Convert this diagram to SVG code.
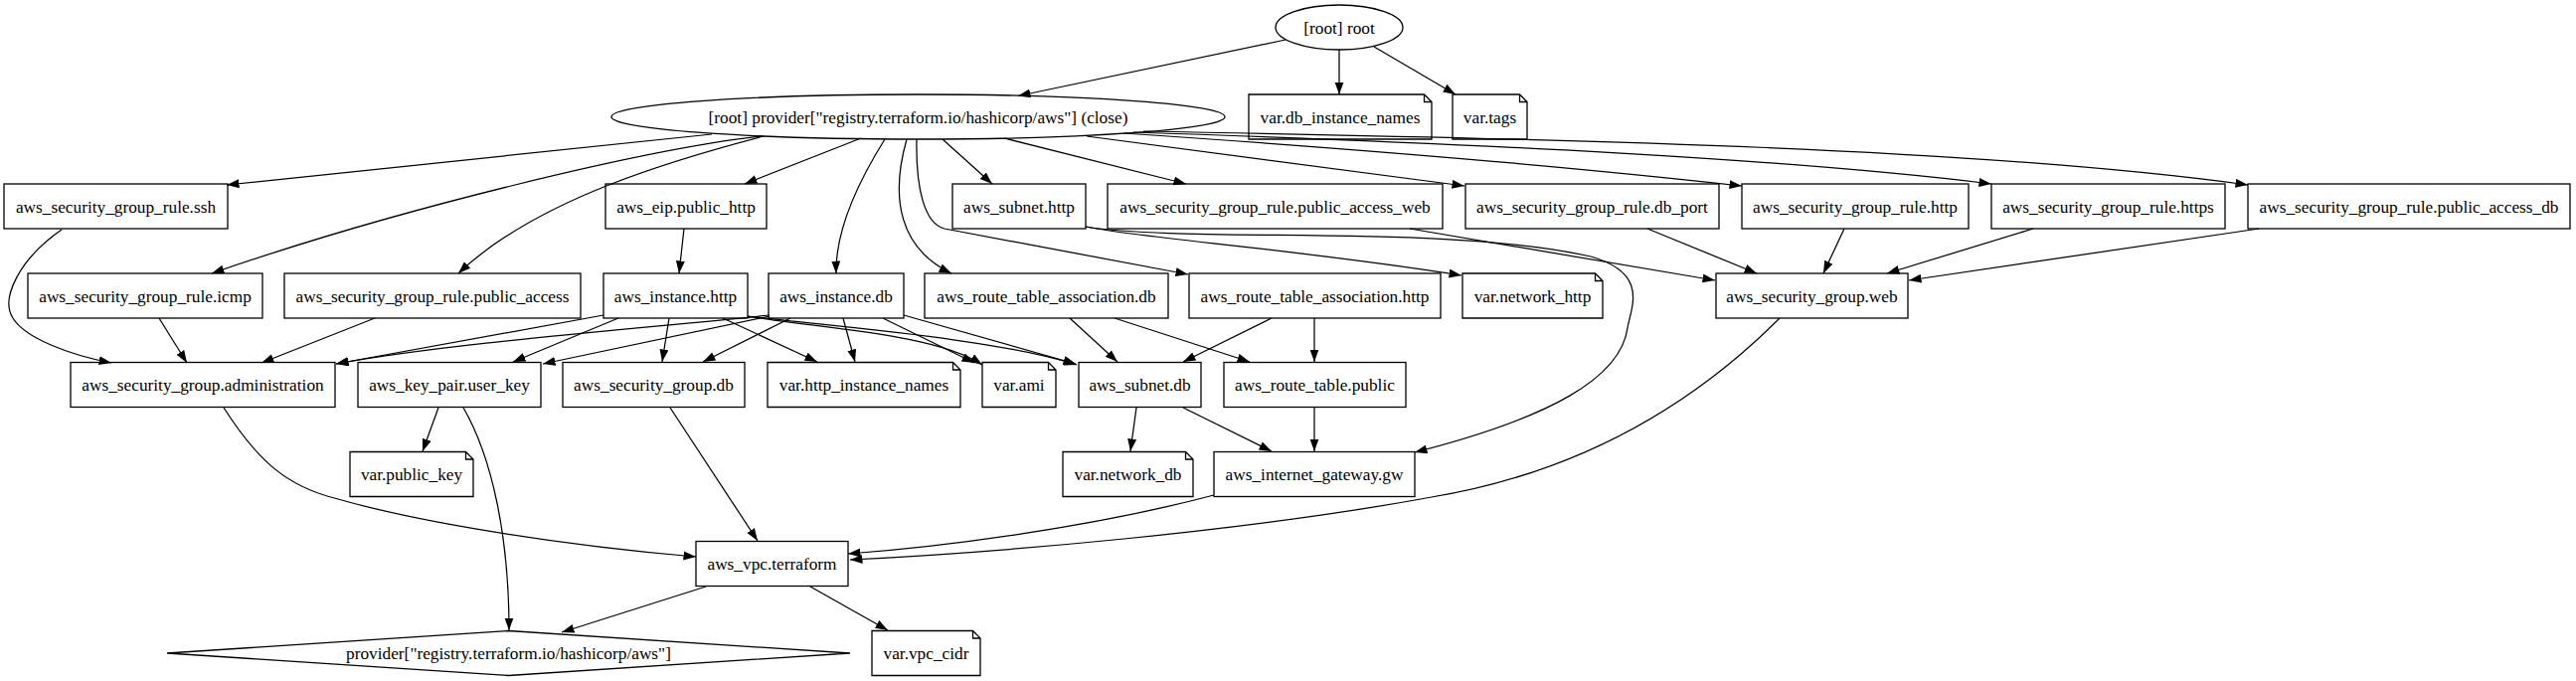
<svg xmlns="http://www.w3.org/2000/svg" width="2591" height="685" viewBox="0 0 2591 685">
<style>
.s{fill:none;stroke:#000;stroke-width:1.3}
.e{fill:none;stroke:#000;stroke-width:1.25}
text{font-family:"Liberation Serif","Times New Roman",serif;font-size:17.3px;text-anchor:middle;fill:#000}
</style>
<defs>
<marker id="a" markerWidth="14" markerHeight="10" refX="12.5" refY="4.5" orient="auto" markerUnits="userSpaceOnUse"><path d="M0,0 L12.5,4.5 L0,9 z" fill="#000"/></marker>
</defs>
<rect width="2591" height="685" fill="#fff"/>
<g id="connectors" class="e" marker-end="url(#a)">
<path d="M1293,40 L1024,96.5"/>
<path d="M1347,50 L1347,95"/>
<path d="M1382,47 L1464,95"/>
<path d="M716,135 L228,186"/>
<path d="M766,137 C650,150 400,210 213,275"/>
<path d="M768,137 C680,160 540,200 461,275"/>
<path d="M866,139 L749,185"/>
<path d="M890,140 C865,180 840,230 841,275"/>
<path d="M912,140 C895,200 905,250 957,275"/>
<path d="M922,140 C921,190 930,225 950,230 L1195,276"/>
<path d="M948,140 L998,185"/>
<path d="M1010,139 L1193,185"/>
<path d="M1093,137 L1473,187"/>
<path d="M1130,134 C1400,152 1600,170 1752,187"/>
<path d="M1140,133 C1500,145 1800,160 2003,185"/>
<path d="M1150,132 C1600,140 2000,150 2261,186"/>
<path d="M688,230 L683,275"/>
<path d="M62,231 C20,260 0,300 13,320 C25,340 70,357 112,365"/>
<path d="M160,320 L188,365"/>
<path d="M377,320 L263,365"/>
<path d="M607,317 L338,366"/>
<path d="M774,317 C650,330 450,345 338,366"/>
<path d="M622,320 L516,364"/>
<path d="M774,318 L546,366"/>
<path d="M673,320 L666,364"/>
<path d="M727,320 L822,364"/>
<path d="M752,318 C820,330 940,335 988,367"/>
<path d="M752,318 C830,328 1000,340 1083,367"/>
<path d="M795,320 L707,364"/>
<path d="M848,320 L860,364"/>
<path d="M888,320 L980,365"/>
<path d="M909,317 L1082,366"/>
<path d="M1076,320 L1124,364"/>
<path d="M1121,320 L1257,364"/>
<path d="M1279,320 L1190,364"/>
<path d="M1322,320 L1322,364"/>
<path d="M1143,410 L1137,454"/>
<path d="M1190,410 L1279,454"/>
<path d="M1322,410 L1322,454"/>
<path d="M1221,498 C1100,530 950,550 853,557"/>
<path d="M1790,320 C1730,380 1620,470 1440,500 C1250,535 1000,556 855,563"/>
<path d="M225,410 C260,465 290,490 340,502 C420,525 560,548 700,560"/>
<path d="M674,410 L762,544"/>
<path d="M441,410 L425,454"/>
<path d="M466,410 C495,460 512,540 512,634"/>
<path d="M710,590 L565,636"/>
<path d="M815,590 L893,634"/>
<path d="M1092,228 C1150,240 1300,250 1470,277"/>
<path d="M1092,228 C1200,245 1450,225 1600,258 C1660,275 1640,310 1637,330 C1630,380 1560,420 1423,455"/>
<path d="M1418,230 L1725,282"/>
<path d="M1657,230 L1767,275"/>
<path d="M1855,230 L1834,275"/>
<path d="M2045,230 L1898,275"/>
<path d="M2272,230 L1920,282"/>
</g>
<g id="root"><ellipse class="s" cx="1347" cy="27.5" rx="64" ry="22.5"/><text x="1347" y="33.5">[root] root</text></g>
<g id="provider_close"><ellipse class="s" cx="923.5" cy="117.5" rx="308.5" ry="22.5"/><text x="923.5" y="123.5">[root] provider["registry.terraform.io/hashicorp/aws"] (close)</text></g>
<g id="var_db_instance_names"><path class="s" d="M1256,95 H1432.5 L1440,102.5 V140 H1256 Z M1432.5,95 V102.5 H1440"/><text x="1348" y="123.5">var.db_instance_names</text></g>
<g id="var_tags"><path class="s" d="M1461,95 H1528.5 L1536,102.5 V140 H1461 Z M1528.5,95 V102.5 H1536"/><text x="1498.5" y="123.5">var.tags</text></g>
<g id="sgr_ssh"><rect class="s" x="4" y="185" width="225" height="45"/><text x="116.5" y="213.5">aws_security_group_rule.ssh</text></g>
<g id="eip_public_http"><rect class="s" x="609" y="185" width="162" height="45"/><text x="690" y="213.5">aws_eip.public_http</text></g>
<g id="subnet_http"><rect class="s" x="958" y="185" width="134" height="45"/><text x="1025" y="213.5">aws_subnet.http</text></g>
<g id="sgr_public_access_web"><rect class="s" x="1114" y="185" width="337" height="45"/><text x="1282.5" y="213.5">aws_security_group_rule.public_access_web</text></g>
<g id="sgr_db_port"><rect class="s" x="1474" y="185" width="255" height="45"/><text x="1601.5" y="213.5">aws_security_group_rule.db_port</text></g>
<g id="sgr_http"><rect class="s" x="1752" y="185" width="228" height="45"/><text x="1866" y="213.5">aws_security_group_rule.http</text></g>
<g id="sgr_https"><rect class="s" x="2003" y="185" width="235" height="45"/><text x="2120.5" y="213.5">aws_security_group_rule.https</text></g>
<g id="sgr_public_access_db"><rect class="s" x="2261" y="185" width="324" height="45"/><text x="2423" y="213.5">aws_security_group_rule.public_access_db</text></g>
<g id="sgr_icmp"><rect class="s" x="28" y="275" width="236" height="45"/><text x="146" y="303.5">aws_security_group_rule.icmp</text></g>
<g id="sgr_public_access"><rect class="s" x="286" y="275" width="298" height="45"/><text x="435" y="303.5">aws_security_group_rule.public_access</text></g>
<g id="instance_http"><rect class="s" x="607" y="275" width="145" height="45"/><text x="679.5" y="303.5">aws_instance.http</text></g>
<g id="instance_db"><rect class="s" x="773" y="275" width="136" height="45"/><text x="841" y="303.5">aws_instance.db</text></g>
<g id="rta_db"><rect class="s" x="930" y="275" width="245" height="45"/><text x="1052.5" y="303.5">aws_route_table_association.db</text></g>
<g id="rta_http"><rect class="s" x="1196" y="275" width="253" height="45"/><text x="1322.5" y="303.5">aws_route_table_association.http</text></g>
<g id="var_network_http"><path class="s" d="M1471,275 H1604.5 L1612,282.5 V320 H1471 Z M1604.5,275 V282.5 H1612"/><text x="1541.5" y="303.5">var.network_http</text></g>
<g id="sg_web"><rect class="s" x="1726" y="275" width="193" height="45"/><text x="1822.5" y="303.5">aws_security_group.web</text></g>
<g id="sg_administration"><rect class="s" x="71" y="364.5" width="266" height="45"/><text x="204" y="393">aws_security_group.administration</text></g>
<g id="key_pair_user_key"><rect class="s" x="360" y="364.5" width="184" height="45"/><text x="452" y="393">aws_key_pair.user_key</text></g>
<g id="sg_db"><rect class="s" x="566" y="364.5" width="183" height="45"/><text x="657.5" y="393">aws_security_group.db</text></g>
<g id="var_http_instance_names"><path class="s" d="M772,364.5 H958.5 L966,372 V409.5 H772 Z M958.5,364.5 V372 H966"/><text x="869" y="393">var.http_instance_names</text></g>
<g id="var_ami"><path class="s" d="M988,364.5 H1054.5 L1062,372 V409.5 H988 Z M1054.5,364.5 V372 H1062"/><text x="1025" y="393">var.ami</text></g>
<g id="subnet_db"><rect class="s" x="1085" y="364.5" width="123" height="45"/><text x="1146.5" y="393">aws_subnet.db</text></g>
<g id="route_table_public"><rect class="s" x="1231" y="364.5" width="183" height="45"/><text x="1322.5" y="393">aws_route_table.public</text></g>
<g id="var_public_key"><path class="s" d="M352,454.5 H468.5 L476,462 V499.5 H352 Z M468.5,454.5 V462 H476"/><text x="414" y="483">var.public_key</text></g>
<g id="var_network_db"><path class="s" d="M1069,454.5 H1192.5 L1200,462 V499.5 H1069 Z M1192.5,454.5 V462 H1200"/><text x="1134.5" y="483">var.network_db</text></g>
<g id="internet_gateway_gw"><rect class="s" x="1221" y="454.5" width="202" height="45"/><text x="1322" y="483">aws_internet_gateway.gw</text></g>
<g id="vpc_terraform"><rect class="s" x="700" y="544.5" width="153" height="45"/><text x="776.5" y="573">aws_vpc.terraform</text></g>
<g id="provider_aws"><polygon class="s" points="168,657 511.5,634.5 855,657 511.5,679.5"/><text x="511.5" y="663">provider["registry.terraform.io/hashicorp/aws"]</text></g>
<g id="var_vpc_cidr"><path class="s" d="M877,634.5 H978.5 L986,642 V679.5 H877 Z M978.5,634.5 V642 H986"/><text x="931.5" y="663">var.vpc_cidr</text></g>
</svg>
